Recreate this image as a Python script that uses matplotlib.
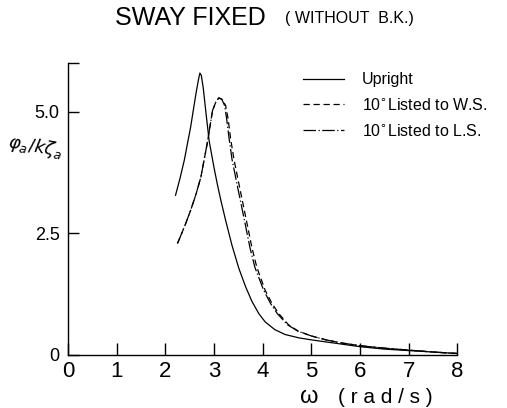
import matplotlib
matplotlib.use("Agg")
import matplotlib.pyplot as plt
import numpy as np

plt.rcParams['font.family'] = ['Liberation Sans', 'DejaVu Sans']
plt.rcParams['mathtext.fontset'] = 'dejavusans'

# Roll amplitude response, sway fixed, without bilge keels
w_upright = [2.21, 2.30, 2.39, 2.52, 2.63, 2.68, 2.71, 2.74, 2.78, 2.83, 2.90,
             3.00, 3.07, 3.14, 3.24, 3.37, 3.51, 3.65, 3.78, 3.92, 4.05, 4.25,
             4.46, 4.75, 5.00, 5.50, 6.00, 6.50, 7.00, 7.50, 8.00]
r_upright = [3.28, 3.62, 4.00, 4.68, 5.37, 5.65, 5.79, 5.74, 5.48, 5.02, 4.40,
             3.85, 3.50, 3.18, 2.76, 2.25, 1.78, 1.40, 1.10, 0.85, 0.68, 0.52,
             0.42, 0.35, 0.31, 0.24, 0.17, 0.12, 0.09, 0.06, 0.03]

w_ws = [2.25, 2.40, 2.52, 2.63, 2.73, 2.86, 2.97, 3.04, 3.10, 3.17, 3.24,
        3.29, 3.34, 3.41, 3.51, 3.65, 3.78, 3.88, 4.05, 4.19, 4.33, 4.53,
        4.73, 5.00, 5.30, 5.60, 6.00, 6.50, 7.00, 7.50, 8.00]
r_ws = [2.29, 2.65, 2.97, 3.30, 3.65, 4.34, 5.02, 5.20, 5.28, 5.25, 5.12,
        4.85, 4.45, 4.02, 3.52, 2.84, 2.20, 1.80, 1.33, 1.06, 0.85, 0.62,
        0.49, 0.39, 0.31, 0.25, 0.19, 0.14, 0.10, 0.06, 0.03]

w_ls = [2.25, 2.40, 2.52, 2.63, 2.73, 2.86, 2.97, 3.04, 3.10, 3.16, 3.22,
        3.26, 3.31, 3.37, 3.47, 3.61, 3.74, 3.84, 4.02, 4.16, 4.30, 4.51,
        4.72, 5.00, 5.30, 5.60, 6.00, 6.50, 7.00, 7.50, 8.00]
r_ls = [2.29, 2.65, 2.97, 3.30, 3.65, 4.34, 5.02, 5.20, 5.28, 5.25, 5.12,
        4.85, 4.45, 4.02, 3.52, 2.84, 2.20, 1.80, 1.33, 1.06, 0.85, 0.62,
        0.49, 0.39, 0.31, 0.25, 0.19, 0.14, 0.10, 0.06, 0.03]

x_ticks = [0, 1, 2, 3, 4, 5, 6, 7, 8]
y_ticks = [0, 2.5, 5.0, 6.0]
y_tick_labels = ['0', '2.5', '5.0', '']

fig = plt.figure(figsize=(5.07, 4.08), dpi=100)
ax = fig.add_axes([0.134, 0.130, 0.773, 0.716])

lw = 0.9
ax.plot(w_upright, r_upright, color='black', lw=lw, ls='-', label='Upright')
ax.plot(w_ws, r_ws, color='black', lw=lw, ls=(0, (5, 3)),
        label='10$^{\\circ}$Listed to W.S.')
ax.plot(w_ls, r_ls, color='black', lw=lw, ls=(0, (10, 2, 1, 2)),
        label='10$^{\\circ}$Listed to L.S.')

ax.set_xlim(0, 8.05)
ax.set_ylim(0, 6.0)
for s in ['top', 'right']:
    ax.spines[s].set_visible(False)
for s in ['left', 'bottom']:
    ax.spines[s].set_linewidth(1.0)
ax.spines['bottom'].set_bounds(0, 8)

ax.set_xticks(x_ticks)
ax.set_xticklabels([str(v) for v in x_ticks])
ax.set_yticks(y_ticks)
ax.set_yticklabels(y_tick_labels)
ax.tick_params(axis='x', direction='in', length=8.5, width=1.0,
               labelsize=16, pad=4)
ax.tick_params(axis='y', direction='in', length=8, width=1.0,
               labelsize=13, pad=6)

ax.legend(loc='upper left', bbox_to_anchor=(0.575, 1.0), frameon=False,
          fontsize=11.5, handlelength=2.6, handletextpad=1.1,
          labelspacing=0.6, borderaxespad=0.2)

fig.text(0.227, 0.955, 'SWAY FIXED', fontsize=18, ha='left', va='center')
fig.text(0.562, 0.955, '( WITHOUT  B.K.)', fontsize=11.5, ha='left',
         va='center')
fig.text(0.592, 0.012, '\u03c9', fontsize=17, ha='left', va='baseline')
fig.text(0.667, 0.012, '( r a d / s )', fontsize=15, ha='left',
         va='baseline')
fig.text(0.07, 0.64, r'$\varphi_a/k\zeta_a$', fontsize=13, ha='center',
         va='center', rotation=-10)

fig.savefig('out.png', dpi=100)
